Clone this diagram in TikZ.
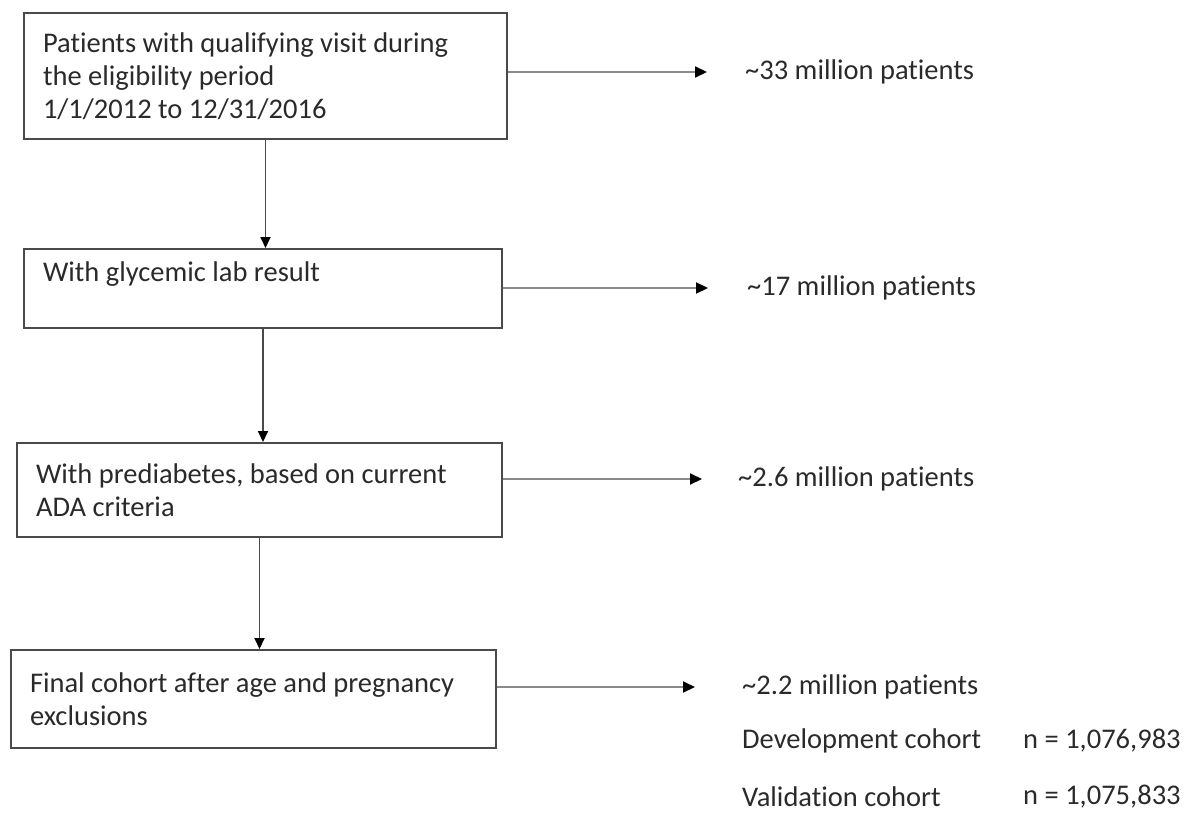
\documentclass[tikz,border=0pt]{standalone}
\usepackage{fontspec}
\setmainfont{Carlito}[RawFeature=-liga]
\usetikzlibrary{arrows.meta}
\definecolor{boxgray}{HTML}{4A4A4A}
\definecolor{linegray}{HTML}{8A8A8A}
\definecolor{txtgray}{HTML}{2A2A2A}

\begin{document}
\begin{tikzpicture}[x=1pt,y=1pt]
\tikzstyle{every node}+=[inner sep=0pt, text=txtgray, font=\fontsize{28.5}{33}\selectfont]
\tikzstyle{stage}=[draw=boxgray, line width=2pt, align=flush left, inner xsep=19pt]
\tikzstyle{flow}=[draw=boxgray, line width=1.8pt, -{Triangle[length=11pt,width=10pt,color=black]}]
\tikzstyle{side}=[draw=linegray, line width=2pt, -{Triangle[length=12pt,width=11pt,color=black]}]
\useasboundingbox (0,0) rectangle (1185,-816);
% stages of the cohort
\node [stage, text width=445pt, minimum height=126pt] (visit) at (265.5,-76) {Patients with qualifying visit during\\the eligibility period\\1/1/2012 to 12/31/2016};
\node [stage, text width=440pt, minimum height=79pt] (glyc) at (263,-288.5) {With glycemic lab result\\\mbox{}};
\node [stage, text width=447pt, minimum height=94pt] (prediab) at (259.5,-490) {With prediabetes, based on current\\ADA criteria};
\node [stage, text width=447pt, minimum height=98pt] (final) at (253.5,-699) {Final cohort after age and pregnancy\\exclusions};
% counts on the right
\node [anchor=west] (cvisit) at (745,-72) {\textasciitilde33 million patients};
\node [anchor=west] (cglyc) at (747,-288) {\textasciitilde17 million patients};
\node [anchor=west] (cprediab) at (738,-479) {\textasciitilde2.6 million patients};
\node [anchor=west] (cfinal) at (742,-687) {\textasciitilde2.2 million patients};
\node [anchor=west] (dev) at (742,-741) {Development cohort};
\node [anchor=west] (ndev) at (1023,-741) {n = 1,076,983};
\node [anchor=west] (val) at (742,-797) {Validation cohort};
\node [anchor=west] (nval) at (1023,-797) {n = 1,075,833};
% arrows
\draw [flow] (visit.south) -- (visit.south |- glyc.north);
\draw [flow] (glyc.south) -- (glyc.south |- prediab.north);
\draw [flow] (prediab.south) -- (prediab.south |- final.north);
\draw [side] (visit.east |- cvisit) -- ([xshift=-38pt]cvisit.west);
\draw [side] (glyc.east |- cglyc) -- ([xshift=-39pt]cglyc.west);
\draw [side] (prediab.east |- cprediab) -- ([xshift=-36pt]cprediab.west);
\draw [side] (final.east |- cfinal) -- ([xshift=-47pt]cfinal.west);
\end{tikzpicture}
\end{document}
